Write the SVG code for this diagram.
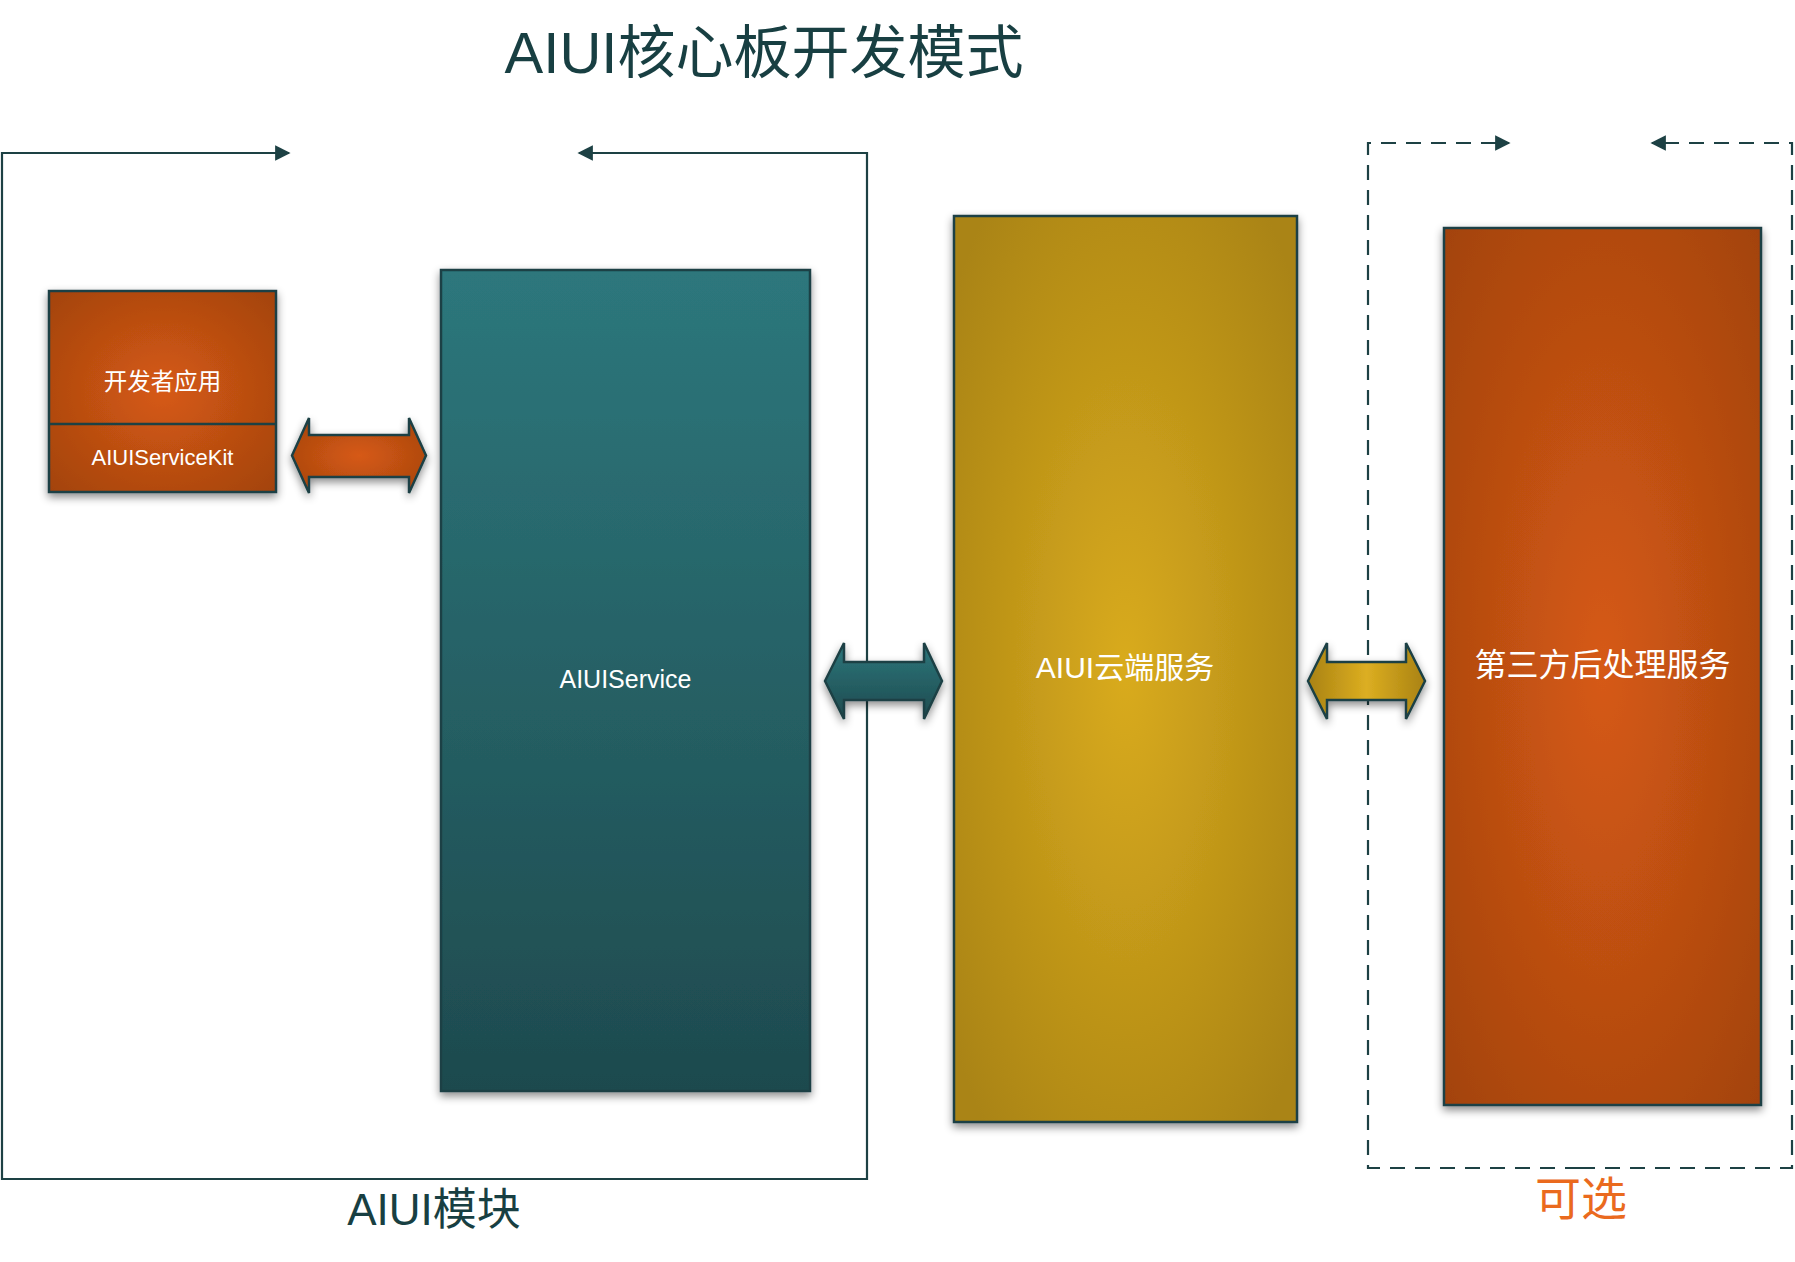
<svg xmlns="http://www.w3.org/2000/svg" width="1795" height="1262" viewBox="0 0 1795 1262">
<style>
.box{stroke:#1d4144;stroke-width:2.5;filter:url(#sh)}
.arr{stroke:#1d4144;stroke-width:2.5;stroke-linejoin:miter;filter:url(#sh)}
.conn{fill:none;stroke:#1d4144;stroke-width:2.2}
.dash{stroke-dasharray:15 10}
.w{fill:#ffffff;font-family:"Liberation Sans","Noto Sans CJK SC",sans-serif;text-anchor:middle}
.t{fill:#183f42;font-family:"Liberation Sans","Noto Sans CJK SC",sans-serif;text-anchor:middle}
</style>
<defs>
<filter id="sh" x="-20%" y="-20%" width="140%" height="140%">
<feDropShadow dx="0" dy="4" stdDeviation="4" flood-color="#000" flood-opacity="0.45"/>
</filter>
<radialGradient id="gOr" cx="50%" cy="50%" r="70%">
<stop offset="0" stop-color="#d65a14"/><stop offset="1" stop-color="#a3430e"/>
</radialGradient>
<linearGradient id="gTeal" x1="0" y1="0" x2="0" y2="1">
<stop offset="0" stop-color="#2d777c"/><stop offset="1" stop-color="#1e4a4e"/>
</linearGradient>
<radialGradient id="gGold" cx="50%" cy="50%" r="65%">
<stop offset="0" stop-color="#d9ab1e"/><stop offset="1" stop-color="#aa8414"/>
</radialGradient>
<linearGradient id="gGoldH" x1="0" y1="0" x2="1" y2="0">
<stop offset="0" stop-color="#a98213"/><stop offset="0.5" stop-color="#dcae21"/><stop offset="1" stop-color="#a98213"/>
</linearGradient>
<marker id="ah" viewBox="0 0 10 10" refX="9" refY="5" markerWidth="7" markerHeight="7" markerUnits="strokeWidth" orient="auto">
<path d="M0,0 L10,5 L0,10 Z" fill="#1d4144"/>
</marker>
</defs>
<rect width="1795" height="1262" fill="#ffffff"/>

<text class="t" x="764" y="73" font-size="58">AIUI核心板开发模式</text>

<g id="connectors">
<path class="conn" d="M434,1179 L2,1179 L2,153 L289,153" marker-end="url(#ah)"/>
<path class="conn" d="M434,1179 L867,1179 L867,153 L579,153" marker-end="url(#ah)"/>
<path class="conn dash" d="M1580,1168 L1368,1168 L1368,143 L1509,143" marker-end="url(#ah)"/>
<path class="conn dash" d="M1580,1168 L1792,1168 L1792,143 L1652,143" marker-end="url(#ah)"/>
</g>

<g id="arrow-app-service">
<path class="arr" fill="url(#gOr)" d="M292,455.5 L309,418 L309,435 L409,435 L409,418 L426,455.5 L409,493 L409,477 L309,477 L309,493 Z"/>
</g>
<g id="arrow-service-cloud">
<path class="arr" fill="url(#gTeal)" d="M825,681 L844,643 L844,662 L924,662 L924,643 L942,681 L924,719 L924,700 L844,700 L844,719 Z"/>
</g>
<g id="arrow-cloud-third">
<path class="arr" fill="url(#gGoldH)" d="M1308,681 L1327,643 L1327,662 L1406,662 L1406,643 L1425,681 L1406,719 L1406,700 L1327,700 L1327,719 Z"/>
</g>

<g id="dev-app">
<rect class="box" x="49" y="291" width="227" height="201" fill="url(#gOr)"/>
<line x1="49" y1="424" x2="276" y2="424" stroke="#1d4144" stroke-width="2.5"/>
<text class="w" x="162.5" y="390" font-size="23.5">开发者应用</text>
<text class="w" x="162.5" y="465" font-size="22">AIUIServiceKit</text>
</g>

<g id="aiui-service">
<rect class="box" x="441" y="270" width="369" height="821" fill="url(#gTeal)"/>
<text class="w" x="625.5" y="688" font-size="25">AIUIService</text>
</g>

<g id="aiui-cloud">
<rect class="box" x="954" y="216" width="343" height="906" fill="url(#gGold)"/>
<text class="w" x="1125" y="678" font-size="30">AIUI云端服务</text>
</g>

<g id="third-party">
<rect class="box" x="1444" y="228" width="317" height="877" fill="url(#gOr)"/>
<text class="w" x="1602.5" y="676" font-size="32">第三方后处理服务</text>
</g>

<text class="t" x="434" y="1225" font-size="44">AIUI模块</text>
<text x="1581" y="1215" font-size="46" fill="#ea6a1e" text-anchor="middle" font-family="'Liberation Serif','Noto Sans CJK SC',serif">可选</text>
</svg>
